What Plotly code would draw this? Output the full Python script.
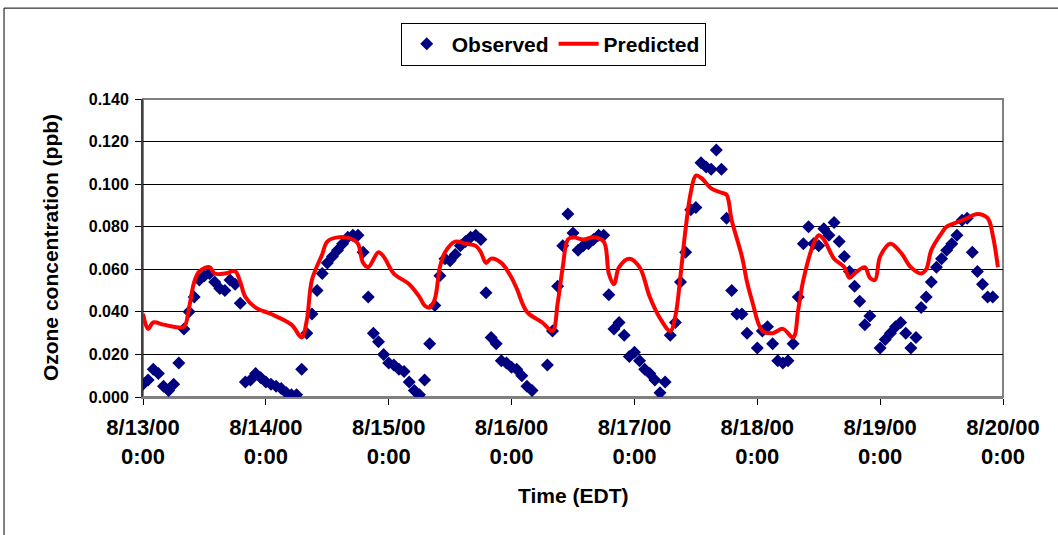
import pandas as pd
import plotly.graph_objects as go

START = pd.Timestamp("2000-08-13 00:00")

# Hourly observed ozone (ppb), one list per day, None = missing hour
obs_0813 = [0.006, 0.008, 0.013, 0.011, 0.005, 0.003, 0.006, 0.016, 0.032, 0.040, 0.047, 0.055,
            0.057, 0.058, 0.054, 0.051, 0.050, 0.055, 0.053, 0.044, 0.007, 0.008, 0.011, 0.009]
obs_0814 = [0.007, 0.006, 0.005, 0.004, 0.002, 0.001, 0.001, 0.013, 0.030, 0.039, 0.050, 0.058,
            0.063, 0.066, 0.069, 0.072, 0.075, 0.076, 0.076, 0.068, 0.047, 0.030, 0.026, 0.020]
obs_0815 = [0.016, 0.015, 0.013, 0.012, 0.007, 0.003, 0.001, 0.008, 0.025, 0.043, 0.057, 0.065,
            0.064, 0.067, 0.071, 0.073, 0.075, 0.076, 0.074, 0.049, 0.028, 0.025, 0.017, 0.016]
obs_0816 = [0.014, 0.013, 0.010, 0.005, 0.003, None, None, 0.015, 0.031, 0.052, 0.071, 0.086,
            0.077, 0.069, 0.071, 0.072, 0.074, 0.076, 0.076, 0.048, 0.032, 0.035, 0.029, 0.019]
obs_0817 = [0.021, 0.017, 0.013, 0.011, 0.008, 0.002, 0.007, 0.029, 0.035, 0.054, 0.068, 0.088,
            0.089, 0.110, 0.108, 0.107, 0.116, 0.107, 0.084, 0.050, 0.039, 0.039, 0.030, None]
obs_0818 = [0.023, 0.031, 0.033, 0.025, 0.017, 0.016, 0.017, 0.025, 0.047, 0.072, 0.080, 0.072,
            0.071, 0.079, 0.076, 0.082, 0.073, 0.066, 0.059, 0.052, 0.045, 0.034, 0.038, None]
obs_0819 = [0.023, 0.027, 0.030, 0.033, 0.035, 0.030, 0.023, 0.028, 0.042, 0.047, 0.054, 0.061,
            0.065, 0.069, 0.072, 0.076, 0.083, 0.084, 0.068, 0.059, 0.053, 0.047, 0.047, None]

# Model output: hours since 8/13/00 0:00 and predicted ozone (ppb)
pred_hours = [0, 1, 2, 4, 6, 8, 9, 10, 11, 13, 14, 16, 18, 19, 20, 22,
              25, 29, 31, 32, 33, 35, 36, 38, 41, 42, 43, 44, 46, 47,
              49, 52, 54, 55, 56, 57, 58, 59, 61, 63, 65, 66, 67, 68, 70,
              72, 73, 75, 78, 80, 81, 82, 83, 84, 86, 88, 90, 91, 92, 93, 95,
              97, 99, 101, 103, 104, 105, 106, 107, 108, 109, 111, 113, 114, 115, 117, 118, 119,
              121, 123, 125, 127, 128, 129, 131, 132, 133, 135, 137, 138, 139, 141, 142, 143,
              144, 146, 148, 150, 152, 153, 154, 156, 157, 159, 161, 163, 165, 166, 167]
pred_values = [0.039, 0.032, 0.035, 0.034, 0.033, 0.033, 0.042, 0.054, 0.059, 0.061, 0.058, 0.058, 0.059, 0.054, 0.047, 0.042,
               0.039, 0.034, 0.028, 0.036, 0.055, 0.067, 0.073, 0.075, 0.074, 0.072, 0.063, 0.061, 0.068, 0.066,
               0.058, 0.053, 0.047, 0.043, 0.042, 0.046, 0.061, 0.068, 0.073, 0.072, 0.071, 0.068, 0.063, 0.065, 0.063,
               0.056, 0.051, 0.040, 0.035, 0.031, 0.044, 0.061, 0.074, 0.075, 0.074, 0.075, 0.073, 0.058, 0.053, 0.061, 0.065,
               0.061, 0.047, 0.037, 0.031, 0.038, 0.057, 0.079, 0.096, 0.104, 0.103, 0.098, 0.096, 0.095, 0.083, 0.066, 0.054, 0.045,
               0.031, 0.030, 0.032, 0.028, 0.041, 0.055, 0.072, 0.076, 0.074, 0.065, 0.061, 0.056, 0.058, 0.061, 0.056, 0.055,
               0.066, 0.072, 0.068, 0.061, 0.058, 0.060, 0.069, 0.077, 0.080, 0.082, 0.084, 0.086, 0.084, 0.076, 0.061]

tick_hours = [0, 24, 48, 72, 96, 120, 144, 168]
tick_labels = ["8/13/00<br>0:00", "8/14/00<br>0:00", "8/15/00<br>0:00", "8/16/00<br>0:00",
               "8/17/00<br>0:00", "8/18/00<br>0:00", "8/19/00<br>0:00", "8/20/00<br>0:00"]
y_ticks = [0.0, 0.02, 0.04, 0.06, 0.08, 0.10, 0.12, 0.14]

observed = obs_0813 + obs_0814 + obs_0815 + obs_0816 + obs_0817 + obs_0818 + obs_0819
obs_time = [START + pd.Timedelta(hours=h) for h in range(len(observed))]
pred_time = [START + pd.Timedelta(hours=h) for h in pred_hours]
tick_time = [START + pd.Timedelta(hours=h) for h in tick_hours]

FONT = "Liberation Sans, Arial, sans-serif"

fig = go.Figure()
fig.add_trace(go.Scatter(
    x=obs_time, y=observed, mode="markers", name="Observed",
    marker=dict(symbol="diamond", size=10, color="#000080", line=dict(width=0)),
))
fig.add_trace(go.Scatter(
    x=pred_time, y=pred_values, mode="lines", name="Predicted",
    line=dict(color="#FF0000", width=4, shape="spline", smoothing=1.0),
))

fig.update_layout(
    width=1058, height=535,
    margin=dict(l=143, r=55, t=99, b=138),
    paper_bgcolor="white", plot_bgcolor="white",
    font=dict(family=FONT, size=17, color="black"),
    showlegend=True,
    legend=dict(
        orientation="h", x=0.477, xanchor="center", y=1.256, yanchor="top",
        bordercolor="black", borderwidth=1, bgcolor="white",
        font=dict(family=FONT, size=21, color="black", weight="bold"),
        itemwidth=40, tracegroupgap=0,
    ),
    xaxis=dict(
        type="date",
        range=[tick_time[0], tick_time[-1]],
        tickvals=tick_time, ticktext=tick_labels,
        tickfont=dict(family=FONT, size=22, weight="bold"),
        ticks="outside", ticklen=6, tickcolor="black", tickwidth=1,
        ticklabelstandoff=4,
        showgrid=False, zeroline=False,
        showline=True, linecolor="#808080", linewidth=2,
    ),
    yaxis=dict(
        range=[0, 0.14],
        tickvals=y_ticks, tickformat=".3f",
        tickfont=dict(family=FONT, size=16, weight="bold"),
        ticks="outside", ticklen=6, tickcolor="black", tickwidth=1,
        ticklabelstandoff=3,
        showgrid=True, gridcolor="black", gridwidth=1,
        zeroline=False,
        showline=True, linecolor="#404040", linewidth=2,
    ),
    shapes=[
        # plot-area frame
        dict(type="rect", xref="paper", yref="paper", x0=0, y0=0, x1=1, y1=1,
             line=dict(color="#808080", width=2), layer="below"),
        # outer chart frame
        dict(type="rect", xref="paper", yref="paper", x0=-0.1616, y0=-0.47, x1=1.2, y1=1.305,
             line=dict(color="black", width=1), layer="below"),
    ],
    annotations=[
        dict(text="<b>Ozone concentration (ppb)</b>", xref="paper", yref="paper",
             x=-0.108, y=0.5, xanchor="center", yanchor="middle", textangle=-90,
             showarrow=False, font=dict(family=FONT, size=21)),
        dict(text="<b>Time (EDT)</b>", xref="paper", yref="paper",
             x=0.5, y=-0.33, xanchor="center", yanchor="middle",
             showarrow=False, font=dict(family=FONT, size=21)),
    ],
)

fig.write_html("out.html")
